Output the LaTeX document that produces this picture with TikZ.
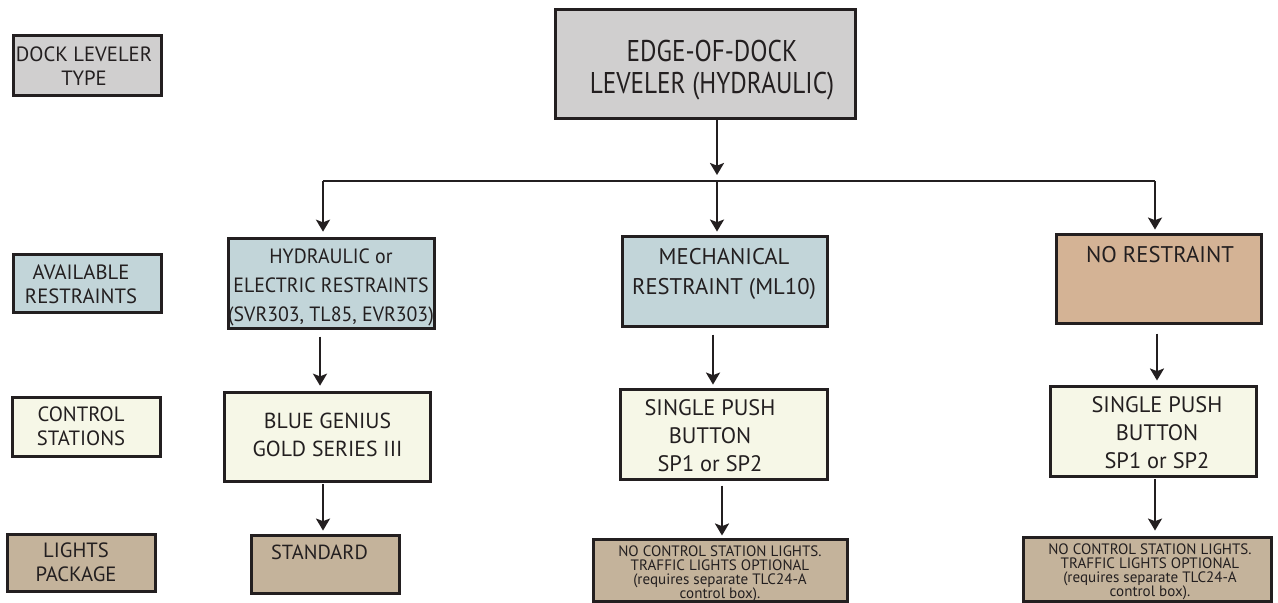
\documentclass[tikz,border=0pt]{standalone}
\usepackage{fontspec}
\setsansfont{PT Sans}
\newfontfamily\topfont[FakeStretch=0.84]{PT Sans}
\newfontfamily\hydfont[FakeStretch=0.96]{PT Sans}
\usetikzlibrary{arrows.meta}
\definecolor{bd}{HTML}{231F20}
\definecolor{cgray}{HTML}{D0CFCF}
\definecolor{cblue}{HTML}{C2D5D9}
\definecolor{ccream}{HTML}{F6F7E7}
\definecolor{ctan}{HTML}{C4B39B}
\definecolor{cbrown}{HTML}{D4B395}
\newcommand\myfs[2]{\fontsize{#1}{#2}\selectfont\sffamily}
\newcommand\bx[6]{\node[boxs, fill=#6, minimum width={(#4-#2-3)*0.75pt}, minimum height={(#5-#3-3)*0.75pt}] (#1) at ({(#2+#4)/2},{(#3+#5)/2}) {};}
\begin{document}
\begin{tikzpicture}[x=0.75pt,y=-0.75pt,
  boxs/.style={draw=bd, line width=2.2pt, inner sep=0pt, rectangle},
  txt/.style={inner sep=0pt, anchor=north, align=center, text=bd},
  arr/.style={draw=bd, line width=1.8pt, -{Stealth[length=9pt,width=10.5pt,inset=2pt]}},
  conn/.style={draw=bd, line width=1.8pt}]
\useasboundingbox (0,0) rectangle (1278,603);
% legend
\bx{legA}{12}{34}{163}{97}{cgray}
\bx{legB}{12}{253}{163}{314}{cblue}
\bx{legC}{11}{396}{162}{458}{ccream}
\bx{legD}{6}{533}{157}{593}{ctan}
% main boxes
\bx{top}{554}{8}{857}{120}{cgray}
\bx{hyd}{227}{237}{436}{330}{cblue}
\bx{mech}{621}{235}{829}{328}{cblue}
\bx{nores}{1055}{233}{1263}{325}{cbrown}
\bx{bg}{223}{391}{432}{483}{ccream}
\bx{spA}{619}{388}{829}{481}{ccream}
\bx{spB}{1049}{385}{1258}{478}{ccream}
\bx{std}{250}{534}{401}{595}{ctan}
\bx{lpA}{592}{538}{849}{603}{ctan}
\bx{lpB}{1022}{536}{1273}{603}{ctan}
% texts
\node[txt, font=\myfs{15.5}{18}] (tA) at (84,47) {DOCK LEVELER\\TYPE};
\node[txt, font=\myfs{15.5}{18}] (tB) at (81,265) {AVAILABLE\\RESTRAINTS};
\node[txt, font=\myfs{15.5}{18}] (tC) at (81,407) {CONTROL\\STATIONS};
\node[txt, font=\myfs{15.5}{18}] (tD) at (76,543) {LIGHTS\\PACKAGE};
\node[txt, font=\myfs{22.5}{24}\topfont] (ttop) at (712,40) {EDGE-OF-DOCK\\LEVELER (HYDRAULIC)};
\node[txt, font=\myfs{15.5}{21.4}\hydfont] (thyd) at (331,249) {HYDRAULIC or\\ELECTRIC RESTRAINTS\\(SVR303, TL85, EVR303)};
\node[txt, font=\myfs{17}{22.5}] (tmech) at (724,248) {MECHANICAL\\RESTRAINT (ML10)};
\node[txt, font=\myfs{17}{22}] (tnores) at (1160,246) {NO RESTRAINT};
\node[txt, font=\myfs{16.3}{21}] (tbg) at (327.5,413) {BLUE GENIUS\\GOLD SERIES III};
\node[txt, font=\myfs{16.8}{21.2}] (tspA) at (710,399) {SINGLE PUSH\\BUTTON\\SP1 or SP2};
\node[txt, font=\myfs{16.8}{21.2}] (tspB) at (1157,396) {SINGLE PUSH\\BUTTON\\SP1 or SP2};
\node[txt, font=\myfs{15.3}{18}] (tstd) at (319.5,545) {STANDARD};
\node[txt, font=\myfs{11.3}{10.6}] (tlpA) at (720,545) {NO CONTROL STATION LIGHTS.\\TRAFFIC LIGHTS OPTIONAL\\(requires separate TLC24-A\\control box).};
\node[txt, font=\myfs{11.3}{10.6}] (tlpB) at (1150,543) {NO CONTROL STATION LIGHTS.\\TRAFFIC LIGHTS OPTIONAL\\(requires separate TLC24-A\\control box).};
% guide coordinates
\coordinate (bar) at (717,181);
\coordinate (barL) at (323,181);
\coordinate (barR) at (1155,181);
\coordinate (xa) at (320,0);
\coordinate (xb) at (323,0);
\coordinate (xc) at (713,0);
\coordinate (xd) at (722,0);
\coordinate (xe) at (1157,0);
\coordinate (xf) at (1155,0);
% connectors
\draw[arr, shorten >=4.5pt] (top.south -| bar) -- (bar);
\draw[conn] (barL) -- (barR);
\draw[arr, shorten >=4pt] (barL) -- (barL |- hyd.north);
\draw[arr, shorten >=2.6pt] (bar) -- (bar |- mech.north);
\draw[arr, shorten >=2.6pt] (barR) -- (barR |- nores.north);
\draw[arr, shorten <=5pt, shorten >=4pt] (hyd.south -| xa) -- (bg.north -| xa);
\draw[arr, shorten <=1pt, shorten >=2.6pt] (bg.south -| xb) -- (std.north -| xb);
\draw[arr, shorten <=5pt, shorten >=2.6pt] (mech.south -| xc) -- (spA.north -| xc);
\draw[arr, shorten <=3.4pt, shorten >=1.9pt] (spA.south -| xd) -- (lpA.north -| xd);
\draw[arr, shorten <=6.4pt, shorten >=3.4pt] (nores.south -| xe) -- (spB.north -| xe);
\draw[arr, shorten <=1.1pt, shorten >=4.1pt] (spB.south -| xf) -- (lpB.north -| xf);
\end{tikzpicture}
\end{document}
